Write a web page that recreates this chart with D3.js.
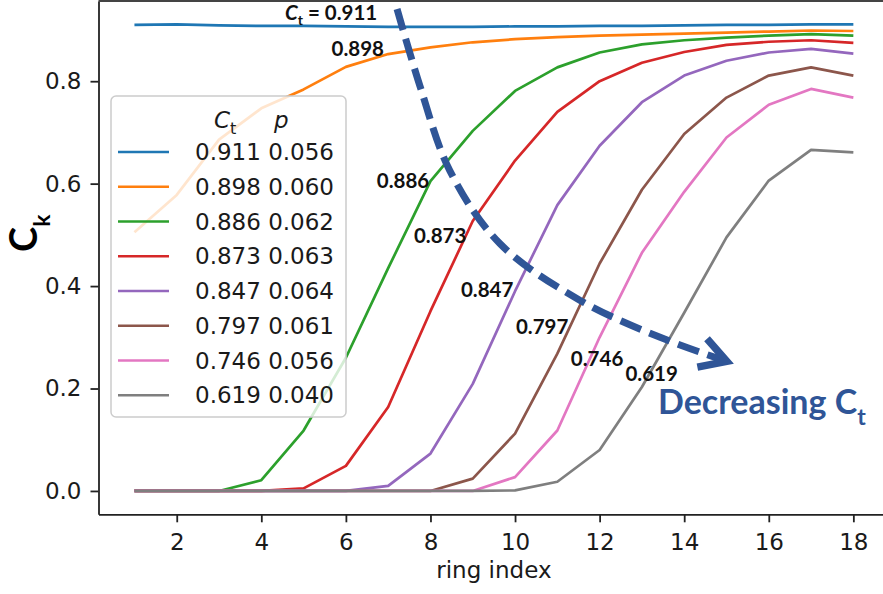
<!DOCTYPE html>
<html>
<head>
<meta charset="utf-8">
<script src="https://cdn.jsdelivr.net/npm/d3@7"></script>
<style>
  html, body { margin: 0; padding: 0; background: #fff; }
  svg { display: block; }
</style>
</head>
<body>
<svg id="chart" width="883" height="594"></svg>
<script>
// ---- data ----
const ringIndex = [1, 2, 3, 4, 5, 6, 7, 8, 9, 10, 11, 12, 13, 14, 15, 16, 17, 18];

const ctLabels = ["0.911", "0.898", "0.886", "0.873", "0.847", "0.797", "0.746", "0.619"];
const pLabels  = ["0.056", "0.060", "0.062", "0.063", "0.064", "0.061", "0.056", "0.040"];

const ckCt0911 = [0.910, 0.911, 0.909, 0.908, 0.908, 0.907, 0.906, 0.906, 0.906, 0.907, 0.907, 0.908, 0.908, 0.909, 0.910, 0.910, 0.911, 0.911];
const ckCt0898 = [0.505, 0.578, 0.686, 0.747, 0.784, 0.828, 0.853, 0.866, 0.876, 0.882, 0.886, 0.889, 0.891, 0.893, 0.895, 0.897, 0.899, 0.898];
const ckCt0886 = [0.000, 0.000, 0.000, 0.021, 0.118, 0.260, 0.435, 0.605, 0.703, 0.781, 0.827, 0.856, 0.872, 0.880, 0.885, 0.889, 0.892, 0.889];
const ckCt0873 = [0.000, 0.000, 0.000, 0.000, 0.005, 0.049, 0.164, 0.351, 0.527, 0.645, 0.740, 0.800, 0.836, 0.857, 0.871, 0.877, 0.880, 0.875];
const ckCt0847 = [0.000, 0.000, 0.000, 0.000, 0.000, 0.000, 0.010, 0.073, 0.209, 0.390, 0.558, 0.674, 0.759, 0.811, 0.840, 0.856, 0.863, 0.854];
const ckCt0797 = [0.000, 0.000, 0.000, 0.000, 0.000, 0.000, 0.000, 0.000, 0.024, 0.112, 0.268, 0.444, 0.588, 0.697, 0.768, 0.811, 0.827, 0.811];
const ckCt0746 = [0.000, 0.000, 0.000, 0.000, 0.000, 0.000, 0.000, 0.000, 0.000, 0.027, 0.118, 0.300, 0.465, 0.584, 0.690, 0.754, 0.785, 0.768];
const ckCt0619 = [0.000, 0.000, 0.000, 0.000, 0.000, 0.000, 0.000, 0.000, 0.000, 0.001, 0.018, 0.080, 0.203, 0.348, 0.495, 0.606, 0.666, 0.661];

const seriesValues = [ckCt0911, ckCt0898, ckCt0886, ckCt0873, ckCt0847, ckCt0797, ckCt0746, ckCt0619];
const seriesColors = ["#1f77b4", "#ff7f0e", "#2ca02c", "#d62728", "#9467bd", "#8c564b", "#e377c2", "#7f7f7f"];

const xTicks = [2, 4, 6, 8, 10, 12, 14, 16, 18];
const yTicks = [0.0, 0.2, 0.4, 0.6, 0.8];

// ---- layout ----
const plot = { left: 98.5, right: 889.3, top: 1, bottom: 514.3 };
const tickFont = "'DejaVu Sans', sans-serif";
const noteFont = "Lato, 'Open Sans', sans-serif";
const noteBlue = "#2f5597";

// where each C_t tag sits, in data units (ring index, C_k)
const tagAnchors = [
  [5.65, 0.933], [6.28, 0.864], [7.35, 0.606], [8.23, 0.499],
  [9.34, 0.394], [10.64, 0.321], [11.94, 0.258], [13.23, 0.229]
];
// sweep of the "decreasing C_t" arrow, in data units
const arrowTrack = [
  [7.21, 0.941], [7.75, 0.791], [8.46, 0.625], [9.64, 0.483],
  [11.54, 0.372], [13.43, 0.300], [14.94, 0.255]
];

const svg = d3.select("#chart");

const x = d3.scaleLinear().domain([0.15, 18.85]).range([plot.left, plot.right]);
const y = d3.scaleLinear().domain([-0.0456, 0.9566]).range([plot.bottom, plot.top]);

// ---- axes ----
const xAxis = svg.append("g")
  .attr("transform", `translate(0,${plot.bottom})`)
  .call(d3.axisBottom(x).tickValues(xTicks).tickFormat(d3.format("d"))
    .tickSizeInner(8).tickSizeOuter(0).tickPadding(11));

const yAxis = svg.append("g")
  .attr("transform", `translate(${plot.left},0)`)
  .call(d3.axisLeft(y).tickValues(yTicks).tickFormat(d3.format(".1f"))
    .tickSizeInner(8).tickSizeOuter(0).tickPadding(9));

[xAxis, yAxis].forEach(a => {
  a.select(".domain").attr("stroke", "#222").attr("stroke-width", 1.8);
  a.selectAll(".tick line").attr("stroke", "#222").attr("stroke-width", 1.8);
  a.selectAll(".tick text").attr("fill", "#1a1a1a")
    .style("font-family", tickFont).style("font-size", "23px");
});

// top spine
svg.append("line")
  .attr("x1", plot.left).attr("x2", plot.right)
  .attr("y1", plot.top).attr("y2", plot.top)
  .attr("stroke", "#444").attr("stroke-width", 1.8);

// ---- series ----
const line = d3.line()
  .x((d, i) => x(ringIndex[i]))
  .y(d => y(d));

svg.append("g").selectAll("path")
  .data(seriesValues)
  .join("path")
  .attr("d", line)
  .attr("fill", "none")
  .attr("stroke", (d, i) => seriesColors[i])
  .attr("stroke-width", 2.7)
  .attr("stroke-linejoin", "round")
  .attr("stroke-linecap", "butt");

// ---- legend ----
const lg = svg.append("g");
lg.append("rect")
  .attr("x", 111).attr("y", 96).attr("width", 235).attr("height", 321)
  .attr("rx", 5).attr("ry", 5)
  .attr("fill", "#fff").attr("fill-opacity", 0.8)
  .attr("stroke", "#cccccc").attr("stroke-width", 1.5);

const head = lg.append("text")
  .attr("y", 128)
  .style("font-family", tickFont).style("font-size", "23px").attr("fill", "#1a1a1a");
head.append("tspan").attr("x", 214).style("font-style", "italic").text("C");
head.append("tspan").attr("dy", 6).style("font-size", "16px").text("t");
head.append("tspan").attr("x", 274).attr("dy", -6).style("font-style", "italic").text("p");

const rows = lg.selectAll("g.row")
  .data(ctLabels)
  .join("g")
  .attr("class", "row")
  .attr("transform", (d, i) => `translate(0,${152 + i * 34.75})`);
rows.append("line")
  .attr("x1", 118).attr("x2", 169)
  .attr("stroke", (d, i) => seriesColors[i]).attr("stroke-width", 2.7);
rows.append("text")
  .attr("x", 195).attr("y", 8.2)
  .style("font-family", tickFont).style("font-size", "23px").attr("fill", "#1a1a1a")
  .text((d, i) => `${d} ${pLabels[i]}`);

// ---- C_t tags on the curves ----
const tags = svg.append("g")
  .style("font-family", noteFont).style("font-weight", "bold").style("font-size", "20.5px")
  .attr("fill", "#111");

ctLabels.forEach((ct, i) => {
  const t = tags.append("text")
    .attr("x", x(tagAnchors[i][0])).attr("y", y(tagAnchors[i][1]))
    .attr("dy", "0.36em").attr("text-anchor", "middle");
  if (i === 0) {
    t.append("tspan").style("font-style", "italic").text("C");
    t.append("tspan").attr("dy", 5).style("font-size", "14px").text("t");
    t.append("tspan").attr("dy", -5).text(` = ${ct}`);
  } else {
    t.text(ct);
  }
});

// ---- dashed arrow ----
const arrowLine = d3.line()
  .x(d => x(d[0])).y(d => y(d[1]))
  .curve(d3.curveCatmullRom.alpha(0.5));

const arrow = svg.append("path")
  .attr("d", arrowLine(arrowTrack))
  .attr("fill", "none")
  .attr("stroke", noteBlue)
  .attr("stroke-width", 7)
  .attr("stroke-dasharray", "22,9");

{
  const node = arrow.node();
  const L = node.getTotalLength();
  const p1 = node.getPointAtLength(L);
  const p0 = node.getPointAtLength(L - 12);
  const ang = Math.atan2(p1.y - p0.y, p1.x - p0.x);
  const tip = [p1.x + 3 * Math.cos(ang), p1.y + 3 * Math.sin(ang)];
  const arm = 30, spread = Math.PI / 6;
  const a1 = [tip[0] - arm * Math.cos(ang - spread), tip[1] - arm * Math.sin(ang - spread)];
  const a2 = [tip[0] - arm * Math.cos(ang + spread), tip[1] - arm * Math.sin(ang + spread)];
  svg.append("path")
    .attr("d", `M${a1[0]},${a1[1]}L${tip[0]},${tip[1]}L${a2[0]},${a2[1]}`)
    .attr("fill", "none")
    .attr("stroke", noteBlue)
    .attr("stroke-width", 7.5)
    .attr("stroke-linejoin", "miter")
    .attr("stroke-linecap", "butt");
}

const dec = svg.append("text")
  .attr("x", 658).attr("y", 414)
  .style("font-family", noteFont).style("font-weight", "bold").style("font-size", "34px")
  .attr("fill", noteBlue);
dec.append("tspan").text("Decreasing C");
dec.append("tspan").attr("dy", 11).style("font-size", "23px").text("t");

// ---- axis titles ----
svg.append("text")
  .attr("x", (plot.left + plot.right) / 2).attr("y", 578)
  .attr("text-anchor", "middle")
  .style("font-family", tickFont).style("font-size", "23px").attr("fill", "#1a1a1a")
  .text("ring index");

const yl = svg.append("text")
  .attr("transform", "translate(37,252) rotate(-90)")
  .style("font-family", noteFont).style("font-weight", "bold").attr("fill", "#000");
yl.append("tspan").style("font-size", "38px").text("C");
yl.append("tspan").attr("dy", 13).style("font-size", "23px").text("k");
</script>
</body>
</html>
